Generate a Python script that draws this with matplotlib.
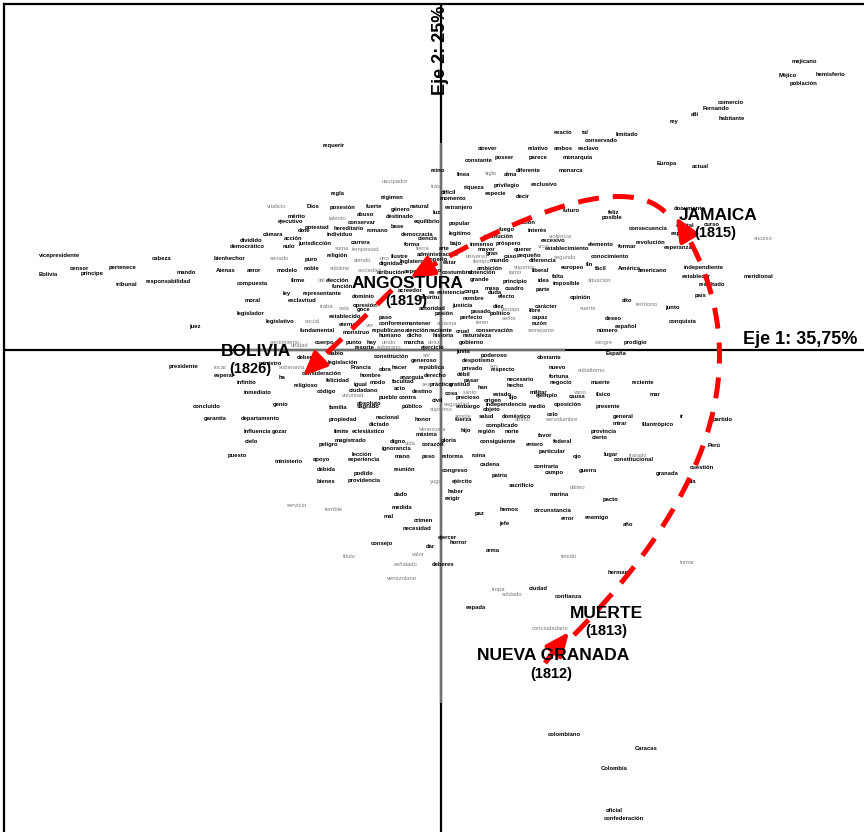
import numpy as np
import matplotlib
matplotlib.use("Agg")
import matplotlib.pyplot as plt

plt.rcParams['font.family'] = ['Liberation Sans', 'DejaVu Sans']

# ---------------- word coordinates (scores x100) ----------------
# strong-contribution words (drawn bold black)
left_words = ["vicepresidente", "cabeza", "censor", "pertenece", "Bolivia", "príncipe", "mando", "tribunal",
              "responsabilidad", "juez", "bienhechor", "Atenas", "amor", "modelo", "compuesta", "moral",
              "legislador", "legislativo", "ley", "Dios", "posesión", "regla", "mérito", "ejecutivo",
              "potestad", "dote", "hereditario", "conservar", "cámara", "acción", "individuo", "dividido",
              "democrático", "nulo", "jurisdicción", "puro", "religión", "noble", "firme", "elección",
              "función", "representante", "esclavitud", "establecido", "fundamental", "eterno", "monstruo",
              "cuerpo", "requerir"]
left_x = [-381, -279, -362, -318, -393, -349, -255, -314,
          -273, -246, -211, -215, -187, -154, -189, -188,
          -190, -161, -154, -128, -98, -103, -144, -150,
          -124, -137, -92, -79, -168, -148, -101, -190,
          -194, -152, -126, -130, -104, -129, -143, -103,
          -98, -119, -139, -96, -123, -93, -85,
          -116, -107]
left_y = [94, 91, 82, 82, 76, 76, 78, 66,
          69, 24, 91, 79, 79, 79, 66, 50,
          37, 29, 56, 143, 143, 156, 133, 128,
          122, 119, 122, 127, 116, 112, 116, 109,
          103, 104, 107, 91, 94, 82, 69, 69,
          64, 57, 49, 33, 20, 26, 18,
          8, 205]

center_words = ["atrever", "relativo", "ambos", "esclavo", "constante", "poseer", "parece", "monarquía",
                "reino", "línea", "alma", "diferente", "monarca", "difícil", "momento", "riqueza",
                "privilegio", "exclusivo", "régimen", "especie", "decir", "fuerte", "género", "natural",
                "luz", "extranjero", "abuso", "destinado", "equilibrio", "popular", "romano", "base",
                "fuego", "nación", "democracia", "legítimo", "interés", "institución", "ciencia", "carrera",
                "forma", "bajo", "inmenso", "próspero", "excesivo", "arte", "mayor", "querer",
                "establecimiento", "administración", "gran", "ilustre", "caso", "pequeño", "dignidad", "Inglaterra",
                "imperio", "estar", "mundo", "diferencia", "atribución", "aspecto", "divino", "costumbre",
                "ambición", "obtención", "liberal", "europeo", "grande", "principio", "idea", "falta",
                "imposible", "dominio", "acreedor", "es", "existencia", "carga", "masa", "duda",
                "cuadro", "parte", "espíritu", "nombre", "efecto", "opresión", "goce", "autoridad",
                "justicia", "diez", "carácter", "pasión", "pasado", "político", "libre", "paso",
                "perfecto", "capaz", "conforme", "mantener", "razón", "republicano", "atención", "naciente",
                "cruel", "conservación", "humano", "dicho", "historia", "naturaleza", "punto", "hay",
                "marcha", "gobierno", "resorte", "ejercicio", "sabio", "justa"]
center_x = [47, 97, 122, 148, 38, 63, 97, 137,
            -3, 22, 70, 87, 130, 7, 12, 33,
            66, 103, -49, 55, 82, -67, -40, -22,
            -4, 18, -75, -41, -14, 18, -64, -44,
            66, 85, -24, 19, 96, 58, -13, -80,
            -29, 15, 41, 67, 112, 3, 45, 82,
            126, -3, 51, -42, 69, 88, -50, -28,
            -4, 9, 59, 102, -50, -26, -8, 16,
            49, 41, 99, 131, 39, 74, 103, 117,
            125, -78, -31, -9, 10, 31, 51, 54,
            74, 102, -12, 32, 65, -76, -77, -9,
            21, 58, 105, 3, 40, 59, 94, -55,
            30, 99, -49, -23, 99, -53, -24, 0,
            22, 54, -51, -26, 2, 36, -87, -69,
            -27, 30, -76, -8, -105, 22]
center_y = [202, 202, 202, 202, 190, 193, 193, 193,
            180, 176, 176, 180, 180, 157, 152, 163,
            165, 165, 152, 156, 153, 143, 141, 144,
            138, 143, 135, 134, 128, 127, 119, 124,
            121, 128, 116, 116, 119, 113, 111, 107,
            106, 106, 105, 106, 109, 102, 101, 101,
            101, 96, 96, 94, 94, 94, 86, 89,
            90, 88, 89, 89, 77, 79, 79, 77,
            82, 77, 79, 82, 70, 69, 69, 74,
            66, 54, 59, 57, 57, 59, 62, 57,
            61, 61, 52, 52, 54, 44, 40, 42,
            44, 44, 44, 36, 39, 36, 39, 33,
            33, 33, 27, 27, 27, 20, 20, 20,
            19, 20, 15, 15, 15, 15, 8, 8,
            8, 8, 3, 3, -3, -1]

right_words = ["mejicano", "Méjico", "hemisferio", "población", "comercio", "Fernando", "allí", "habitante",
               "rey", "exacto", "tal", "limitado", "conservado", "Europa", "actual", "futuro",
               "feliz", "posible", "documento", "capital", "curso", "expresión", "consecuencia", "elemento",
               "revolución", "formar", "esperanza", "conocimiento", "fin", "fácil", "América", "americano",
               "independiente", "establecer", "meridional", "resultado", "país", "opinión", "alto", "junto",
               "deseo", "conquista", "español", "número", "prodigio", "España"]
right_x = [363, 347, 389, 363, 290, 275, 254, 291,
           233, 122, 144, 186, 160, 226, 259, 131,
           173, 171, 249, 244, 271, 244, 207, 160,
           209, 186, 237, 169, 149, 160, 188, 212,
           263, 255, 317, 271, 260, 139, 186, 231,
           172, 242, 185, 166, 194, 175]
right_y = [289, 275, 275, 266, 247, 242, 236, 231,
           229, 217, 217, 215, 209, 186, 184, 139,
           137, 132, 141, 125, 125, 116, 122, 106,
           108, 103, 103, 93, 86, 82, 82, 79,
           82, 74, 73, 65, 54, 53, 50, 42,
           32, 29, 24, 20, 8, -3]

lowleft_words = ["presidente", "ministro", "esperar", "ha", "infinito", "inmediato", "concluido", "genio",
                 "garantía", "departamento", "influencia", "gozar", "cielo", "puesto", "ministerio", "deber",
                 "consideración", "felicidad", "religioso", "código", "familia", "propiedad", "límite", "peligro",
                 "apoyo", "debida", "bienes"]
lowleft_x = [-257, -171, -217, -159, -194, -183, -234, -160,
             -226, -181, -184, -161, -190, -204, -152, -136,
             -119, -103, -135, -115, -103, -98, -100, -113,
             -119, -115, -115]
lowleft_y = [-16, -13, -25, -27, -32, -42, -56, -54,
             -68, -68, -81, -81, -91, -105, -111, -7,
             -23, -30, -35, -41, -57, -69, -81, -94,
             -109, -119, -131]

lowcenter_words = ["constitución", "generoso", "legislación", "Francia", "obra", "hacer", "república", "hombre",
                   "anarquía", "derecho", "igual", "modo", "facultad", "práctica", "ciudadano", "acto",
                   "destino", "pueblo", "contra", "absoluto", "sagrado", "público", "nacional", "honor",
                   "dictado", "eclesiástico", "máxima", "magistrado", "digno", "ignorancia", "corazón", "lección",
                   "experiencia", "mano", "peso", "reunión", "podido", "providencia", "dado", "medida",
                   "mal", "crimen", "necesidad", "consejo", "dar", "deberes"]
lowcenter_x = [-50, -17, -98, -80, -56, -42, -9, -71,
               -29, -6, -80, -63, -38, 0, -77, -41,
               -19, -53, -33, -72, -73, -29, -53, -18,
               -62, -73, -14, -90, -43, -44, -8, -79,
               -77, -38, -12, -37, -77, -77, -40, -39,
               -52, -18, -24, -59, -11, 2]
lowcenter_y = [-6, -10, -12, -17, -19, -17, -17, -25,
               -27, -25, -34, -32, -31, -34, -40, -38,
               -41, -47, -47, -53, -56, -56, -67, -69,
               -74, -81, -84, -90, -91, -98, -94, -104,
               -109, -106, -106, -119, -123, -130, -144, -157,
               -166, -171, -178, -194, -197, -214]

lowright_words = ["poderoso", "despotismo", "obstante", "privado", "respecto", "nuevo", "débil", "fortuna",
                  "pasar", "gratitud", "necesario", "han", "hecho", "negocio", "muerte", "reciente",
                  "cosa", "estado", "militar", "físico", "mar", "civil", "precioso", "origen",
                  "fijo", "ejemplo", "causa", "embargo", "independencia", "medio", "oposición", "presente",
                  "objeto", "fuerza", "salud", "doméstico", "celo", "general", "ir", "mirar",
                  "filantrópico", "partido", "complicado", "hijo", "región", "norte", "favor", "provincia",
                  "cierto", "gloria", "consiguiente", "entero", "federal", "Perú", "reforma", "ruina",
                  "particular", "ojo", "lugar", "constitucional", "cadena", "contraria", "cuestión", "congreso",
                  "campo", "guerra", "granada", "patria", "ejército", "día", "sacrificio", "haber",
                  "marina", "pacto", "exigir", "hemos", "circunstancia", "paz", "error", "enemigo",
                  "jefe", "año", "ejercer", "horror", "arma", "hermano", "ciudad", "confianza",
                  "espada", "colombiano", "Caracas", "Colombia", "oficial", "confederación"]
lowright_x = [53, 37, 108, 31, 62, 116, 23, 118,
              30, 19, 79, 42, 74, 120, 159, 202,
              10, 61, 97, 163, 214, -4, 27, 52,
              72, 106, 136, 27, 65, 96, 127, 167,
              51, 23, 45, 76, 112, 182, 241, 179,
              217, 282, 61, 25, 46, 71, 104, 163,
              159, 8, 57, 94, 122, 273, 12, 38,
              111, 136, 170, 193, 49, 105, 261, 14,
              113, 147, 226, 59, 21, 251, 81, 15,
              118, 170, 12, 68, 112, 39, 127, 156,
              63, 187, 6, 17, 52, 179, 97, 127,
              35, 123, 205, 173, 173, 183]
lowright_y = [-5, -10, -7, -18, -19, -17, -24, -26,
              -30, -34, -29, -37, -35, -32, -32, -32,
              -43, -44, -42, -44, -44, -50, -47, -50,
              -47, -45, -46, -56, -54, -56, -54, -56,
              -59, -69, -66, -66, -64, -66, -66, -73,
              -74, -69, -75, -80, -81, -81, -85, -81,
              -87, -90, -91, -94, -91, -95, -106, -105,
              -101, -106, -104, -109, -114, -116, -117, -120,
              -122, -120, -123, -125, -131, -131, -135, -141,
              -144, -149, -148, -159, -160, -163, -168, -167,
              -174, -174, -187, -193, -201, -223, -239, -246,
              -258, -384, -399, -419, -461, -468]

# weak-contribution words (drawn grey)
grey_words = ["vitalicio", "senado", "sublime", "útil", "traba", "sola", "social", "sentimiento",
              "unidad", "talento", "suma", "tempestad", "usurpador", "siglo", "tras", "violencia",
              "tierra", "vicio", "uno", "universo", "segundo", "siendo", "tiempo", "sociedad",
              "superior", "tanto", "ventaja", "señor", "ver", "sistema", "tener", "semejante",
              "unido", "único", "soberano", "suceso", "situación", "territorio", "suerte", "sangre",
              "tocar", "soberanía", "voluntad", "servicio", "terrible", "título", "ser", "sea",
              "Venezuela", "vida", "yugo", "valor", "señalado", "venezolano", "soy", "subalterno",
              "santo", "vano", "seguridad", "supremo", "simple", "ánimo", "servidumbre", "tratado",
              "último", "tenido", "tomar", "tropa", "soldado", "conciudadano"]
grey_x = [-164, -162, -101, -120, -114, -97, -129, -156,
          -142, -103, -99, -75, -46, 50, -5, 119,
          -18, 103, -56, 36, 124, -78, 41, -71,
          84, 74, 70, 68, -71, 6, 42, 100,
          -52, -6, -52, 322, 159, 206, 147, 163,
          -221, -149, -88, -144, -107, -92, -14, -14,
          -8, -31, -5, -23, -35, -39, 53, 151,
          29, 139, 16, 0, 22, 82, 121, 197,
          136, 128, 246, 58, 71, 109]
grey_y = [143, 91, 82, 69, 44, 41, 29, 8,
          5, 131, 101, 101, 168, 176, 163, 113,
          102, 104, 92, 93, 92, 89, 89, 79,
          82, 77, 40, 32, 25, 27, 28, 20,
          8, 8, 3, 111, 69, 45, 42, 8,
          -17, -17, -45, -155, -159, -206, -5, -34,
          -79, -93, -131, -205, -215, -228, -16, -20,
          -42, -42, -54, -59, -66, -69, -69, -105,
          -137, -206, -212, -239, -245, -279]

# documents (speeches) and their chronological path
doc_names = ["JAMAICA", "ANGOSTURA", "BOLIVIA", "MUERTE", "NUEVA GRANADA"]
doc_years = ["(1815)", "(1819)", "(1826)", "(1813)", "(1812)"]
doc_x = [277, -33, -185, 165, 112]
doc_y = [135, 66, -1, -263, -305]
year_x = [274, -35, -191, 165, 110]
year_y = [117, 49, -19, -281, -324]

# trajectory: Nueva Granada -> Muerte -> Jamaica -> Angostura -> Bolivia
path_x0 = [104, 133, 224, -49]
path_y0 = [-313, -285, 138, 60]
path_cx = [116, 358, 171, -93]
path_cy = [-297, -56, 189, 17]
path_x1 = [128, 235, -31, -138]
path_y1 = [-282, 133, 72, -26]

axis1_label = "Eje 1: 35,75%"
axis2_label = "Eje 2: 25%"

# ---------------- figure ----------------
fig = plt.figure(figsize=(8.64, 8.32), dpi=100)
ax = fig.add_axes([4 / 864, 0, 860 / 864, 828 / 832])
ax.set_xlim(-437, 423)
ax.set_ylim(-482, 346)
ax.set_xticks([])
ax.set_yticks([])
for s in ["right", "bottom"]:
    ax.spines[s].set_visible(False)
for s in ["left", "top"]:
    ax.spines[s].set_linewidth(1.6)
    ax.spines[s].set_color("black")

# axes lines
ax.axhline(0, color="black", lw=1.6, zorder=1)
ax.axvline(0, color="black", lw=1.6, zorder=1)
ax.plot([-196, 124], [0, 0], color="#707070", lw=1.7, zorder=1.1, solid_capstyle="butt")
ax.plot([0, 0], [207, -353], color="#707070", lw=1.7, zorder=1.1, solid_capstyle="butt")

fs = 4.2
for W, X, Y in [(left_words, left_x, left_y), (center_words, center_x, center_y),
                (right_words, right_x, right_y), (lowleft_words, lowleft_x, lowleft_y),
                (lowcenter_words, lowcenter_x, lowcenter_y), (lowright_words, lowright_x, lowright_y)]:
    for w, x, y in zip(W, X, Y):
        ax.text(x, y, w, fontsize=fs, fontweight="bold", color="black",
                ha="center", va="center", zorder=3)
for w, x, y in zip(grey_words, grey_x, grey_y):
    ax.text(x, y, w, fontsize=fs, color="#7a7a7a", ha="center", va="center", zorder=3)

# trajectory arrows
for x0, y0, cx, cy, x1, y1 in zip(path_x0, path_y0, path_cx, path_cy, path_x1, path_y1):
    t = np.linspace(0, 1, 600)
    bx = (1 - t) ** 2 * x0 + 2 * t * (1 - t) * cx + t ** 2 * x1
    by = (1 - t) ** 2 * y0 + 2 * t * (1 - t) * cy + t ** 2 * y1
    seg = np.hypot(np.diff(bx), np.diff(by))
    cum = np.concatenate([[0], np.cumsum(seg)])
    remain = cum[-1] - cum
    k = np.argmin(np.abs(remain - 14))
    ax.plot(bx[:k + 1], by[:k + 1], color="#ff0000", lw=3.6, dashes=(4.2, 2.8),
            solid_capstyle="butt", dash_capstyle="butt", zorder=4)
    j = np.argmin(np.abs(remain - 22))
    ax.annotate("", xy=(x1, y1), xytext=(bx[j], by[j]),
                arrowprops=dict(arrowstyle="-|>,head_length=0.8,head_width=0.35",
                                mutation_scale=18, color="#ff0000", lw=3,
                                shrinkA=0, shrinkB=0),
                zorder=4)

for n, x, y in zip(doc_names, doc_x, doc_y):
    ax.text(x, y, n, fontsize=12.5, fontweight="bold", color="black",
            ha="center", va="center", zorder=5)
for n, x, y in zip(doc_years, year_x, year_y):
    ax.text(x, y, n, fontsize=10.5, fontweight="bold", color="black",
            ha="center", va="center", zorder=5)

ax.text(359, 11, axis1_label, fontsize=13, fontweight="bold", ha="center", va="center", zorder=5)
ax.text(0, 300, axis2_label, fontsize=13, fontweight="bold", ha="center", va="center",
        rotation=90, zorder=5)

fig.savefig("out.png", dpi=100)
